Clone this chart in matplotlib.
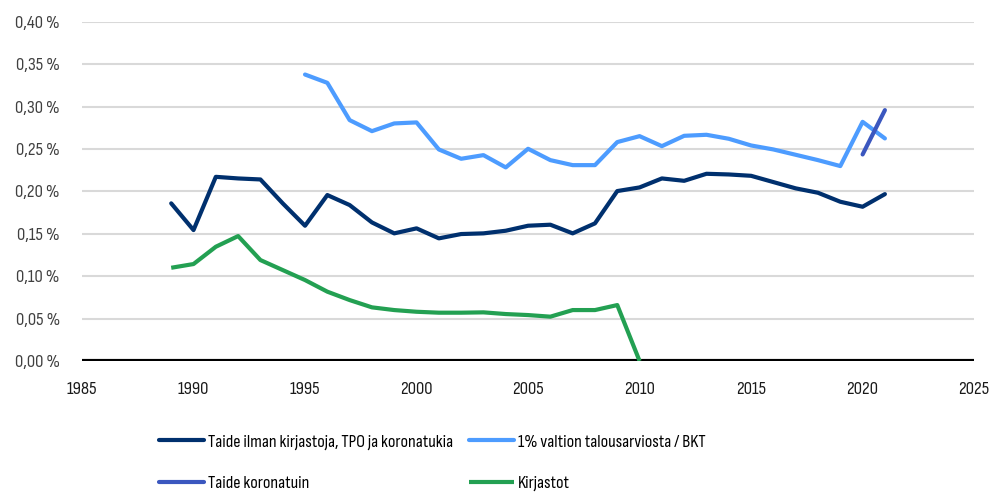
import numpy as np
import matplotlib
matplotlib.use("Agg")
import matplotlib.pyplot as plt
from matplotlib.ticker import FuncFormatter

plt.rcParams['font.family'] = ['Sofia Sans Condensed', 'Archivo Narrow', 'DejaVu Sans']

# data (share of GDP, %)
years_taide = list(range(1989, 2022))
taide = [0.186, 0.1545, 0.2173, 0.2154, 0.2142, 0.186, 0.1596, 0.1958, 0.184, 0.1635,
         0.1506, 0.1565, 0.1447, 0.1498, 0.1506, 0.1537, 0.1596, 0.1608, 0.1506, 0.1624,
         0.2005, 0.2048, 0.2154, 0.2126, 0.2209, 0.2201, 0.2185, 0.2111, 0.2037, 0.1985,
         0.1879, 0.182, 0.1969]

years_prosentti = list(range(1995, 2022))
prosentti = [0.338, 0.3282, 0.2842, 0.2712, 0.2803, 0.2815, 0.2496, 0.2386, 0.2429, 0.2284,
             0.2504, 0.237, 0.2311, 0.2311, 0.2583, 0.2653, 0.2535, 0.2657, 0.2669, 0.2622,
             0.2543, 0.2496, 0.2433, 0.237, 0.23, 0.2822, 0.2626]

years_korona = [2020, 2021]
korona = [0.2437, 0.296]

years_kirjastot = list(range(1989, 2011))
kirjastot = [0.110, 0.1144, 0.1348, 0.1474, 0.1191, 0.1073, 0.0955, 0.0818, 0.0719, 0.0633,
             0.0601, 0.0581, 0.057, 0.057, 0.0574, 0.0554, 0.0542, 0.0523, 0.0601, 0.0601,
             0.066, 0.0]

fig = plt.figure(figsize=(9.94, 4.95), dpi=100)
ax = fig.add_axes([0.0825, 0.2707, 0.8975, 0.6849])

for y in np.arange(0.05, 0.401, 0.05):
    ax.axhline(y, color='#d9d9d9', lw=1.5, zorder=0)
ax.axhline(0, color='black', lw=3, zorder=1)

l1, = ax.plot(years_taide, taide, color='#00306e', lw=3, solid_capstyle='round', zorder=3,
              label='Taide ilman kirjastoja, TPO ja koronatukia')
l2, = ax.plot(years_prosentti, prosentti, color='#4d9cff', lw=3, solid_capstyle='round', zorder=3,
              label='1% valtion talousarviosta / BKT')
l3, = ax.plot(years_korona, korona, color='#3b57bf', lw=3, solid_capstyle='round', zorder=4,
              label='Taide koronatuin')
l4, = ax.plot(years_kirjastot, kirjastot, color='#23a052', lw=3, solid_capstyle='butt', zorder=3,
              label='Kirjastot')

ax.set_xlim(1985, 2025)
ax.set_ylim(0, 0.40)
ax.set_xticks(range(1985, 2026, 5))
ax.set_yticks(np.arange(0, 0.401, 0.05))
ax.yaxis.set_major_formatter(FuncFormatter(lambda v, p: f"{v:.2f} %".replace('.', ',')))
for s in ax.spines.values():
    s.set_visible(False)
ax.tick_params(length=0)
ax.tick_params(axis='y', labelsize=13.5, labelcolor='#404040', pad=16)
ax.tick_params(axis='x', labelsize=13.5, labelcolor='#1a1a1a', pad=15)

legkw = dict(frameon=False, fontsize=13, handlelength=2.5, handletextpad=0.2,
             labelspacing=1.42, borderaxespad=0, borderpad=0, loc='upper left')
fig.legend(handles=[l1, l3], bbox_to_anchor=(159 / 994, 1 - 434 / 495), **legkw)
fig.legend(handles=[l2, l4], bbox_to_anchor=(469 / 994, 1 - 434 / 495), **legkw)

fig.savefig('out.png', dpi=100)
